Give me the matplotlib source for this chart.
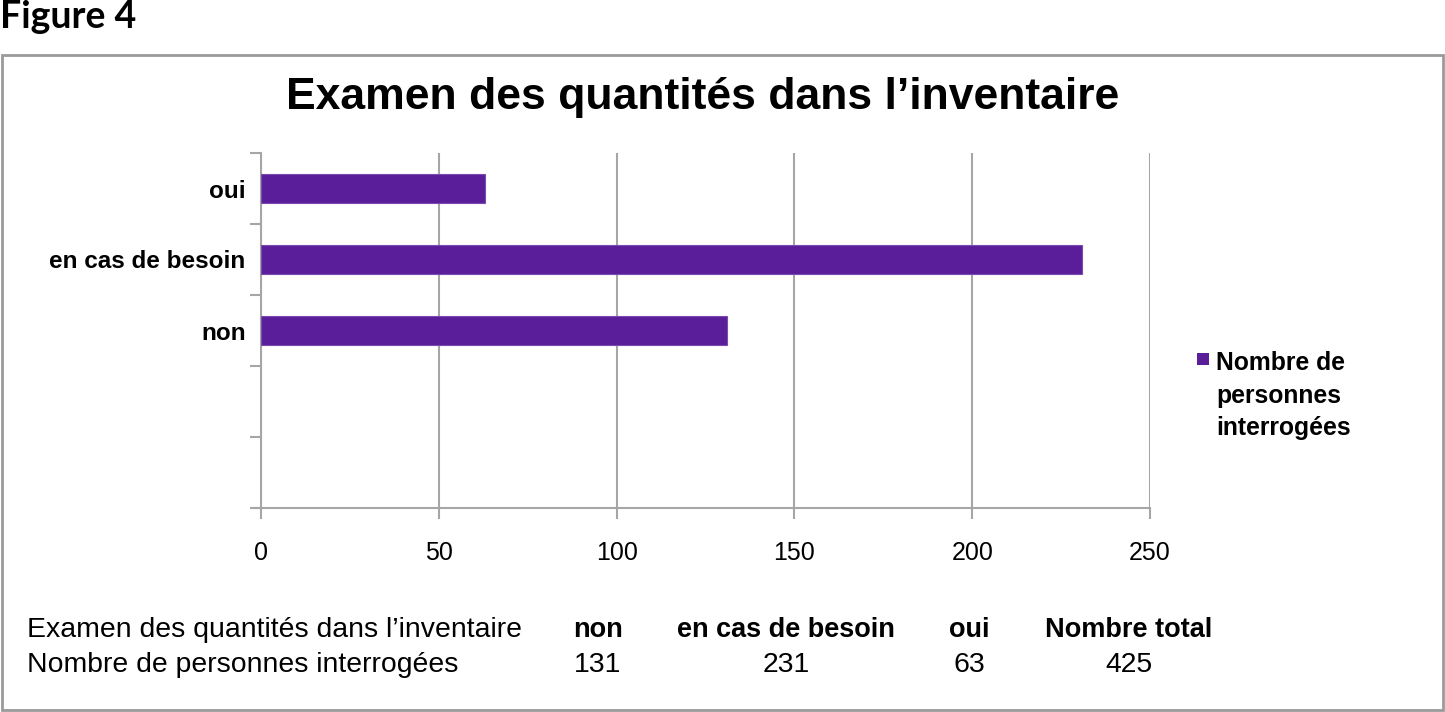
import matplotlib
matplotlib.use("Agg")
import matplotlib.pyplot as plt
from matplotlib.patches import Rectangle
from matplotlib.lines import Line2D

# ---- data ----
categories = ["oui", "en cas de besoin", "non", "", ""]
values = [63, 231, 131, None, None]
series_name = "Nombre de\npersonnes\ninterrogées"
title = "Examen des quantités dans l’inventaire"
x_ticks = [0, 50, 100, 150, 200, 250]

table_row_labels = ["Examen des quantités dans l’inventaire", "Nombre de personnes interrogées"]
table_headers = ["non", "en cas de besoin", "oui", "Nombre total"]
table_values = ["131", "231", "63", "425"]

BAR = "#5B1E9A"
GRID = "#A6A6A6"
W, H = 1445, 712

narrow = ["Liberation Sans", "DejaVu Sans"]
sans = ["Lato", "DejaVu Sans"]

fig = plt.figure(figsize=(W / 100, H / 100), dpi=100)
fig.patch.set_facecolor("white")

def fx(px):
    return px / W

def fy(py):
    return 1 - py / H

# outer border
fig.add_artist(Rectangle((fx(2), fy(710)), fx(1441) - fx(0), fy(55) - fy(710),
                         transform=fig.transFigure, fill=False,
                         edgecolor="#9A9A9A", linewidth=2))

fig.text(fx(0), fy(17), "Figure 4", fontsize=27, fontweight="bold",
         family=sans, va="center", ha="left")
fig.text(fx(703), fy(98), title, fontsize=32, fontweight="bold",
         family=narrow, va="center", ha="center")

# axes: x from 261 to 1150 px, y from 153 to 508 px
ax = fig.add_axes([fx(261), fy(508), fx(1150) - fx(261), fy(153) - fy(508)])
n = len(categories)
pos = list(range(n - 1, -1, -1))
bar_pos = [p for p, v in zip(pos, values) if v is not None]
bar_val = [v for v in values if v is not None]
ax.barh(bar_pos, bar_val, height=0.4, color=BAR, edgecolor="#7A4AB0",
        linewidth=0.8, zorder=3)

ax.set_xlim(0, 250)
ax.set_ylim(-0.5, n - 0.5)
ax.set_xticks(x_ticks)
ax.set_xticklabels([str(t) for t in x_ticks], family=narrow, fontsize=18)
ax.set_yticks(pos)
ax.set_yticklabels(categories, family=narrow, fontsize=17.5, fontweight="bold")
ax.set_yticks([i - 0.5 for i in range(n + 1)], minor=True)
ax.tick_params(axis="y", which="major", length=0, pad=11)
ax.tick_params(axis="y", which="minor", length=8, color=GRID, width=1.5, direction="out")
ax.tick_params(axis="x", length=8, color=GRID, width=1.5, direction="out", pad=16)
ax.grid(axis="x", color=GRID, linewidth=1.5, zorder=0)
for s in ["top", "right"]:
    ax.spines[s].set_visible(False)
for s in ["left", "bottom"]:
    ax.spines[s].set_color(GRID)
    ax.spines[s].set_linewidth(1.5)
# small extension of the bottom axis line to the left
ax.add_line(Line2D([-0.009, 0], [0, 0], transform=ax.transAxes, color=GRID,
                   linewidth=1.5, clip_on=False))

# legend
fig.add_artist(Rectangle((fx(1197), fy(365)), fx(12), fy(353) - fy(365),
                         transform=fig.transFigure, facecolor=BAR, edgecolor="none"))
fig.text(fx(1216), fy(351), series_name, fontsize=17.8, fontweight="bold",
         family=narrow, va="top", ha="left", linespacing=1.45,
         transform=fig.transFigure)

# data table below
row_y = [630, 665]
col_x = [598, 786, 969, 1129]
fig.text(fx(27), fy(row_y[0]), table_row_labels[0], fontsize=20.4, family=narrow,
         va="center", ha="left")
fig.text(fx(27), fy(row_y[1]), table_row_labels[1], fontsize=20.4, family=narrow,
         va="center", ha="left")
for cx, h, v in zip(col_x, table_headers, table_values):
    fig.text(fx(cx), fy(row_y[0]), h, fontsize=19.5, fontweight="bold",
             family=narrow, va="center", ha="center")
    fig.text(fx(cx), fy(row_y[1]), v, fontsize=20.4, family=narrow,
             va="center", ha="center")

fig.savefig("out.png", dpi=100)
